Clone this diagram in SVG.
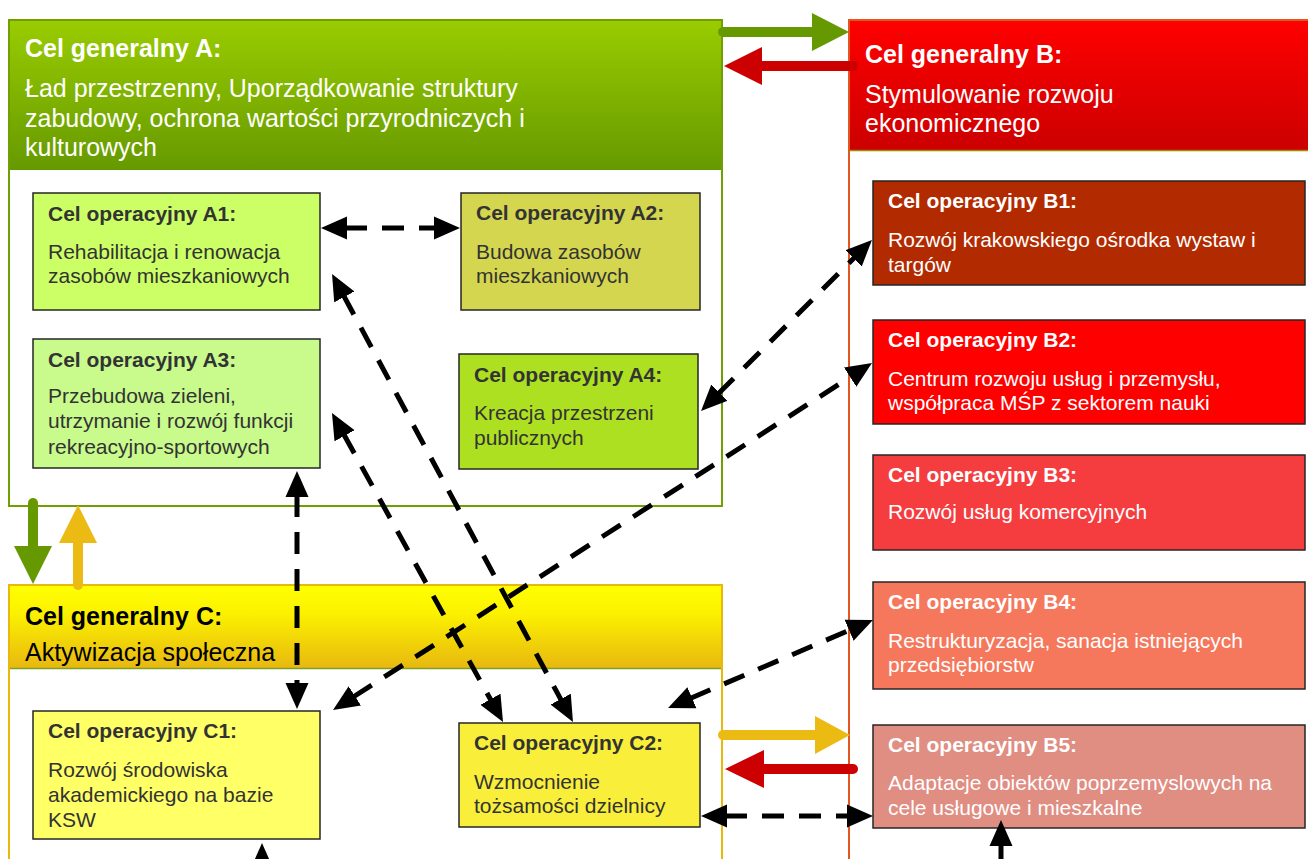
<svg xmlns="http://www.w3.org/2000/svg" width="1308" height="859" viewBox="0 0 1308 859">
<defs>
<linearGradient id="gA" x1="0" y1="0" x2="0" y2="1"><stop offset="0" stop-color="#99cc00"/><stop offset="1" stop-color="#669900"/></linearGradient>
<linearGradient id="gB" x1="0" y1="0" x2="0" y2="1"><stop offset="0" stop-color="#ff0000"/><stop offset="1" stop-color="#cc0000"/></linearGradient>
<linearGradient id="gC" x1="0" y1="0" x2="0" y2="1"><stop offset="0" stop-color="#ffff00"/><stop offset="0.35" stop-color="#fbf000"/><stop offset="1" stop-color="#e8b810"/></linearGradient>
<marker id="ah" markerUnits="userSpaceOnUse" viewBox="0 -12 27 24" markerWidth="27" markerHeight="24" refX="2" refY="0" orient="auto-start-reverse">
<path d="M0,-11.5 L26,0 L0,11.5 z" fill="#000"/>
</marker>
<style>
text{font-family:"Liberation Sans",Arial,sans-serif}
.gt{font-size:25px;font-weight:bold}
.gd{font-size:25px}
.ot{font-size:21px;font-weight:bold}
.od{font-size:21px}
.w{fill:#ffffff}
.k{fill:#000000}
.g{fill:#333333}
.box{stroke:#262626;stroke-width:1.5}
.dash{fill:none;stroke:#000;stroke-width:5;stroke-dasharray:22 15}
.thick{fill:none;stroke-width:10;stroke-linecap:round}
</style>
</defs>
<rect width="1308" height="859" fill="#ffffff"/>

<g id="goalA">
<rect x="9" y="20" width="713" height="486" fill="#ffffff" stroke="#6f9f00" stroke-width="2"/>
<rect x="10" y="21" width="711" height="149" fill="url(#gA)"/>
<text class="gt w" x="25" y="57">Cel generalny A:</text>
<text class="gd w" x="25" y="97">Ład przestrzenny, Uporządkowanie struktury</text>
<text class="gd w" x="25" y="127">zabudowy, ochrona wartości przyrodniczych i</text>
<text class="gd w" x="25" y="156">kulturowych</text>
</g>

<g id="goalB">
<rect x="849" y="20" width="470" height="860" fill="#ffffff" stroke="#e2561f" stroke-width="2"/>
<rect x="850" y="21" width="460" height="129" fill="url(#gB)"/>
<line x1="850" y1="150.5" x2="1310" y2="150.5" stroke="#a08800" stroke-width="1.5"/>
<text class="gt w" x="865" y="63">Cel generalny B:</text>
<text class="gd w" x="865" y="103">Stymulowanie rozwoju</text>
<text class="gd w" x="865" y="132">ekonomicznego</text>
</g>

<g id="goalC">
<rect x="9" y="585" width="713" height="300" fill="#ffffff" stroke="#e8b90c" stroke-width="2"/>
<rect x="10" y="586" width="711" height="82" fill="url(#gC)"/>
<line x1="10" y1="668.5" x2="721" y2="668.5" stroke="#7fa020" stroke-width="1.5"/>
<text class="gt k" x="25" y="625">Cel generalny C:</text>
<text class="gd k" x="25" y="661">Aktywizacja społeczna</text>
</g>

<g id="A1">
<rect class="box" x="33" y="193" width="287" height="117" fill="#ccff66"/>
<text class="ot g" x="48" y="221">Cel operacyjny A1:</text>
<text class="od g" x="48" y="259">Rehabilitacja i renowacja</text>
<text class="od g" x="48" y="283">zasobów mieszkaniowych</text>
</g>

<g id="A2">
<rect class="box" x="461" y="193" width="239" height="117" fill="#d4d64f"/>
<text class="ot g" x="476" y="220">Cel operacyjny A2:</text>
<text class="od g" x="476" y="259">Budowa zasobów</text>
<text class="od g" x="476" y="283">mieszkaniowych</text>
</g>

<g id="A3">
<rect class="box" x="33" y="339" width="287" height="129" fill="#c8fa8c"/>
<text class="ot g" x="48" y="367">Cel operacyjny A3:</text>
<text class="od g" x="48" y="403">Przebudowa zieleni,</text>
<text class="od g" x="48" y="428">utrzymanie i rozwój funkcji</text>
<text class="od g" x="48" y="454">rekreacyjno-sportowych</text>
</g>

<g id="A4">
<rect class="box" x="459" y="354" width="239" height="115" fill="#aee022"/>
<text class="ot g" x="474" y="382">Cel operacyjny A4:</text>
<text class="od g" x="474" y="420">Kreacja przestrzeni</text>
<text class="od g" x="474" y="445">publicznych</text>
</g>

<g id="B1">
<rect class="box" x="873" y="181" width="432" height="104" fill="#b22a00"/>
<text class="ot w" x="888" y="208">Cel operacyjny B1:</text>
<text class="od w" x="888" y="247">Rozwój krakowskiego ośrodka wystaw i</text>
<text class="od w" x="888" y="272">targów</text>
</g>

<g id="B2">
<rect class="box" x="873" y="320" width="432" height="104" fill="#ff0000"/>
<text class="ot w" x="888" y="347">Cel operacyjny B2:</text>
<text class="od w" x="888" y="386">Centrum rozwoju usług i przemysłu,</text>
<text class="od w" x="888" y="410">współpraca MŚP z sektorem nauki</text>
</g>

<g id="B3">
<rect class="box" x="873" y="455" width="432" height="95" fill="#f53d40"/>
<text class="ot w" x="888" y="482">Cel operacyjny B3:</text>
<text class="od w" x="888" y="519">Rozwój usług komercyjnych</text>
</g>

<g id="B4">
<rect class="box" x="873" y="582" width="432" height="107" fill="#f5785c"/>
<text class="ot w" x="888" y="609">Cel operacyjny B4:</text>
<text class="od w" x="888" y="648">Restrukturyzacja, sanacja istniejących</text>
<text class="od w" x="888" y="672">przedsiębiorstw</text>
</g>

<g id="B5">
<rect class="box" x="873" y="725" width="432" height="103" fill="#e08d82"/>
<text class="ot w" x="888" y="752">Cel operacyjny B5:</text>
<text class="od w" x="888" y="790">Adaptacje obiektów poprzemyslowych na</text>
<text class="od w" x="888" y="815">cele usługowe i mieszkalne</text>
</g>

<g id="C1">
<rect class="box" x="33" y="711" width="287" height="128" fill="#ffff66"/>
<text class="ot g" x="48" y="738">Cel operacyjny C1:</text>
<text class="od g" x="48" y="777">Rozwój środowiska</text>
<text class="od g" x="48" y="802">akademickiego na bazie</text>
<text class="od g" x="48" y="827">KSW</text>
</g>

<g id="C2">
<rect class="box" x="459" y="723" width="241" height="104" fill="#f9ef3a"/>
<text class="ot g" x="474" y="750">Cel operacyjny C2:</text>
<text class="od g" x="474" y="789">Wzmocnienie</text>
<text class="od g" x="474" y="813">tożsamości dzielnicy</text>
</g>

<g id="connectors">
<!-- thick goal arrows -->
<line class="thick" x1="723" y1="32" x2="814" y2="32" stroke="#669900"/>
<polygon points="812,13 849,32 812,51" fill="#669900"/>
<line class="thick" x1="853" y1="66" x2="760" y2="66" stroke="#cc0000"/>
<polygon points="762,47 724,66 762,85" fill="#cc0000"/>
<line class="thick" x1="33" y1="503" x2="33" y2="548" stroke="#669900"/>
<polygon points="14,546 52,546 33,584" fill="#669900"/>
<line class="thick" x1="78" y1="585" x2="78" y2="541" stroke="#ebbb14"/>
<polygon points="59,543 97,543 78,505" fill="#ebbb14"/>
<line class="thick" x1="723" y1="735" x2="817" y2="735" stroke="#ebbb14"/>
<polygon points="815,716 850,735 815,754" fill="#ebbb14"/>
<line class="thick" x1="853" y1="769" x2="762" y2="769" stroke="#cc0000"/>
<polygon points="764,750 725,769 764,788" fill="#cc0000"/>
<!-- dashed relations -->
<line class="dash" x1="345" y1="228" x2="436" y2="228" marker-start="url(#ah)" marker-end="url(#ah)"/>
<line class="dash" x1="343.4" y1="295.1" x2="561.6" y2="700.9" marker-start="url(#ah)" marker-end="url(#ah)"/>
<line class="dash" x1="343.6" y1="434" x2="491.4" y2="701" marker-start="url(#ah)" marker-end="url(#ah)"/>
<line class="dash" x1="297" y1="495" x2="297" y2="685" marker-start="url(#ah)" marker-end="url(#ah)"/>
<line class="dash" x1="353.2" y1="697" x2="851.8" y2="376" marker-start="url(#ah)" marker-end="url(#ah)"/>
<line class="dash" x1="718" y1="394" x2="855" y2="257" marker-start="url(#ah)" marker-end="url(#ah)"/>
<line class="dash" x1="690.1" y1="698.5" x2="850.9" y2="629.5" marker-start="url(#ah)" marker-end="url(#ah)"/>
<line class="dash" x1="725" y1="816" x2="849" y2="816" marker-start="url(#ah)" marker-end="url(#ah)"/>
<line class="dash" x1="1001" y1="844" x2="1001" y2="880" marker-start="url(#ah)"/>
<line class="dash" x1="262" y1="867" x2="262" y2="890" marker-start="url(#ah)"/>
</g>
</svg>
